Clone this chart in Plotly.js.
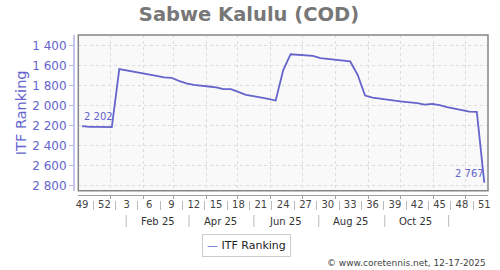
<!DOCTYPE html>
<html>
<head>
<meta charset="utf-8">
<script src="https://cdn.plot.ly/plotly-3.0.1.min.js"></script>
<style>html,body{margin:0;padding:0;background:#fff;}#chart{width:500px;height:270px;}</style>
</head>
<body>
<div id="chart"></div>
<script>
// ---- data ----
const playerTitle = 'Sabwe Kalulu (COD)';
const seriesName = 'ITF Ranking';
const firstWeekMonday = '2024-12-02';   // ISO week 49 of 2024
const rankings = [2202,2210,2210,2210,2212,1633,1645,1660,1675,1687,1700,1716,1720,
  1750,1775,1790,1802,1807,1815,1833,1833,1865,1890,1903,1915,1930,1947,
  1645,1485,1490,1495,1502,1523,1530,1538,1546,1557,
  1690,1897,1918,1930,1940,1949,1957,1965,1972,1988,1980,1993,2014,2027,2040,2057,2060,2767];
const weekLabels = ['49','52','3','6','9','12','15','18','21','24','27','30','33','36','39','42','45','48','51'];
const monthLabels = ['Feb 25','Apr 25','Jun 25','Aug 25','Oct 25'];
const monthLabelDates = ['2025-02-15','2025-04-15','2025-06-15','2025-08-15','2025-10-15'];
const monthSepDates = ['2025-01-16','2025-03-16','2025-05-16','2025-07-16','2025-09-16','2025-11-15'];
const yTicks = [1400,1600,1800,2000,2200,2400,2600,2800];
const xRange = ['2024-12-02','2025-12-22'];
const yRange = [2847,1293];
const credit = '© www.coretennis.net, 12-17-2025';

// ---- helpers ----
const DAY = 86400000;
const t0 = Date.parse(firstWeekMonday + 'T00:00:00Z');
function weekDate(i){ // middle of week i
  return new Date(t0 + (7*i + 3.5)*DAY).toISOString().replace('T',' ').slice(0,19);
}
const xDates = rankings.map((_,i)=>weekDate(i));
const weekTickVals = weekLabels.map((_,k)=>weekDate(3*k));
const weekSepVals = weekLabels.slice(0,-1).map((_,k)=>weekDate(3*k+1.5));
function fmt(v){ return String(v).replace(/\B(?=(\d{3})+(?!\d))/g,' '); }

const blue = '#6464cc';
const FONT = 'DejaVu Sans, sans-serif';

const traces = [
  {x:xDates, y:rankings, type:'scatter', mode:'lines', name:seriesName,
   line:{color:blue, width:1.8}, showlegend:false, hoverinfo:'x+y'},
  {x:xRange, y:[null,null], xaxis:'x2', yaxis:'y', type:'scatter', mode:'lines',
   showlegend:false, hoverinfo:'skip'}
];

const shapes = [
  {type:'rect', xref:'x domain', yref:'y domain', x0:0, x1:1, y0:0, y1:1,
   line:{color:'#858585', width:1.5}, layer:'above'}
];
monthSepDates.forEach(d=>shapes.push({type:'line', xref:'x', yref:'paper', x0:d, x1:d,
  y0:-0.091, y1:-0.164, line:{color:'#bbbbbb', width:1}}));

const annotations = [
  {x:xDates[0], y:rankings[0], xref:'x', yref:'y', text:fmt(rankings[0]), showarrow:false,
   xanchor:'left', yanchor:'bottom', yshift:2, font:{family:FONT, size:10, color:blue}},
  {x:xDates[xDates.length-1], y:rankings[rankings.length-1], xref:'x', yref:'y',
   text:fmt(rankings[rankings.length-1]), showarrow:false, xanchor:'right', yanchor:'bottom',
   yshift:2, xshift:2, font:{family:FONT, size:10, color:blue}},
  {x:0.419, y:-0.208, xref:'paper', yref:'paper', xanchor:'center', yanchor:'top', showarrow:false,
   text:'<span style="color:'+blue+'">—</span> '+seriesName, bordercolor:'#cccccc', borderwidth:1,
   borderpad:4, bgcolor:'#ffffff', font:{family:FONT, size:11, color:'#222'}},
  {x:1.0, y:-0.38, xref:'paper', yref:'paper', xanchor:'right', yanchor:'middle', showarrow:false,
   text:credit, font:{family:FONT, size:9, color:'#444'}}
];
monthLabels.forEach((m,k)=>annotations.push({x:monthLabelDates[k], y:-0.128, xref:'x', yref:'paper',
  text:m, showarrow:false, xanchor:'center', yanchor:'middle', font:{family:FONT, size:10, color:'#333'}}));

const layout = {
  width:500, height:270,
  margin:{l:73, r:12, t:35, b:70},
  paper_bgcolor:'#ffffff', plot_bgcolor:'#f9f9f9',
  font:{family:FONT},
  separators:'. ',
  title:{text:'<b>'+playerTitle+'</b>', x:0.498, xref:'container', xanchor:'center',
         y:0.948, yref:'container', yanchor:'middle', font:{family:FONT, size:19.5, color:'#777777'}},
  xaxis:{type:'date', range:xRange, domain:[0.0128,1], anchor:'free', position:0.0285,
         tickmode:'array', tickvals:weekTickVals, ticktext:weekLabels, ticks:'', showgrid:false,
         tickfont:{family:FONT, size:10, color:'#444'}, showline:true, linecolor:'#a0a0a0', linewidth:1,
         zeroline:false, fixedrange:true,
         minor:{tickmode:'linear', tick0:'2024-12-01', dtick:'M1', ticks:'outside', ticklen:3,
                tickcolor:'#a0a0a0', showgrid:true, gridcolor:'#dcdcdc', griddash:'3px,3px', gridwidth:1}},
  xaxis2:{type:'date', range:xRange, overlaying:'x', anchor:'free', position:0, domain:[0.0128,1],
          tickmode:'array', tickvals:weekSepVals, ticks:'outside', ticklen:9, tickcolor:'#bbbbbb',
          showticklabels:false, showgrid:false, showline:false, zeroline:false},
  yaxis:{range:yRange, autorange:false, domain:[0.0564,1], anchor:'free', position:0,
         tickmode:'array', tickvals:yTicks, separatethousands:true,
         ticks:'outside', ticklen:4, tickcolor:'#b8b8e4', showline:true, linecolor:'#c4c4ec', linewidth:1.5,
         showgrid:true, gridcolor:'#dcdcdc', griddash:'3px,3px', zeroline:false,
         tickfont:{family:FONT, size:12, color:blue},
         title:{text:seriesName, standoff:0, font:{family:FONT, size:14.5, color:blue}}},
  showlegend:false,
  shapes:shapes,
  annotations:annotations
};

Plotly.newPlot('chart', traces, layout, {staticPlot:true, displayModeBar:false});
</script>
</body>
</html>
